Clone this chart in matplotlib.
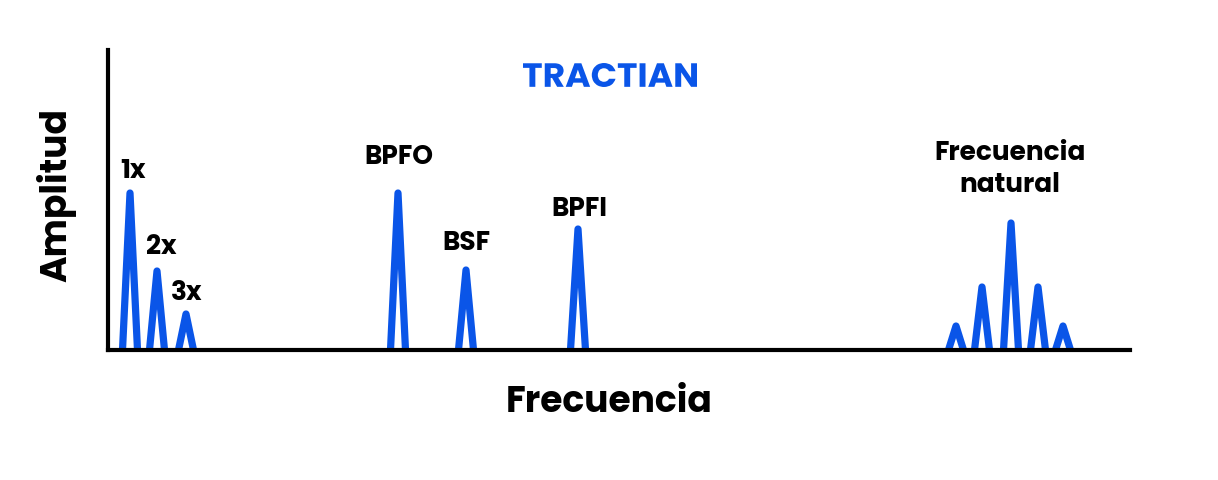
import matplotlib.pyplot as plt
from matplotlib.textpath import TextPath
from matplotlib.patches import PathPatch
from matplotlib.font_manager import FontProperties
from matplotlib.transforms import Affine2D

# peak frequencies (arbitrary units) and amplitudes
freqs = [22, 49, 78, 290, 358, 470, 848, 874, 903, 930, 955]
amps = [157, 79, 36, 157, 80, 121, 24, 63, 127, 63, 24]

# labels: text, frequency they sit over
labels = ["1x", "2x", "3x", "BPFO", "BSF", "BPFI", "Frecuencia\nnatural"]
label_freqs = [25, 53, 79, 291, 358, 471, 902]
label_amps = [157, 79, 36, 157, 80, 121, 127]
label_offsets = [21, 23, 21, 36, 26, 20, 53]

blue = "#0a55e8"
plt.rcParams['font.family'] = ['Poppins', 'Inter', 'DejaVu Sans']

W, H = 1218, 480
fig = plt.figure(figsize=(W / 100, H / 100), dpi=100)
ax = fig.add_axes([108 / W, 130 / H, 1022 / W, 300 / H])

half = 7.5
for f, a in zip(freqs, amps):
    ax.plot([f - half, f, f + half], [0, a, 0], color=blue, lw=5.2,
            solid_capstyle='butt', solid_joinstyle='round', zorder=1)

for txt, f, a, off in zip(labels, label_freqs, label_amps, label_offsets):
    ax.text(f, a + off, txt, ha='center', va='center', fontsize=19,
            fontweight='bold', linespacing=1.25)

ax.set_xlim(0, 1022)
ax.set_ylim(0, 300)
for s in ['top', 'right']:
    ax.spines[s].set_visible(False)
for s in ['left', 'bottom']:
    ax.spines[s].set_linewidth(3)
    ax.spines[s].set_zorder(3)
ax.set_xticks([])
ax.set_yticks([])

fig.text(609 / W, 1 - 412 / H, "Frecuencia", fontsize=26, fontweight='bold',
         ha='center', va='baseline')
fig.text(56 / W, 1 - 195 / H, "Amplitud", fontsize=26, fontweight='bold',
         ha='center', va='center', rotation=90)

# logo, stretched to the box it takes in the picture
tp = TextPath((0, 0), "TRACTIAN", size=1,
              prop=FontProperties(family='Poppins', weight='bold'))
bb = tp.get_extents()
tr = (Affine2D().translate(-bb.x0, -bb.y0)
      .scale(174 / W / bb.width, 24 / H / bb.height)
      .translate(523 / W, 1 - 87 / H)) + fig.transFigure
fig.add_artist(PathPatch(tp, transform=tr, color=blue, lw=0))

fig.savefig("out.png", dpi=100)
